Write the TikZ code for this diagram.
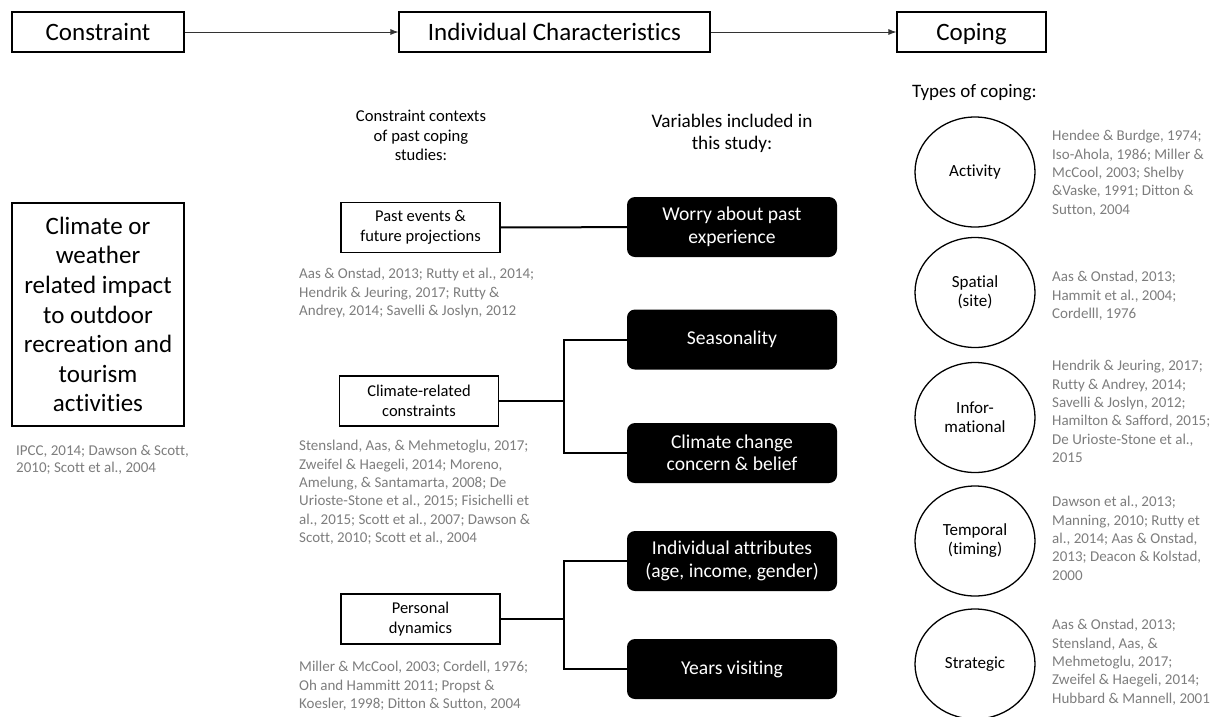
\documentclass[tikz,border=0pt]{standalone}
\usepackage{fontspec}
\setmainfont{Carlito}[Ligatures={NoCommon}]
\usetikzlibrary{shapes.geometric,arrows.meta}
\definecolor{citegray}{RGB}{125,125,125}
\begin{document}
\begin{tikzpicture}[x=1pt,y=1pt,
  topbox/.style={draw, line width=1.1pt, minimum height=40pt, inner sep=0pt, text height=19pt, text depth=3pt, font=\fontsize{25}{29}\selectfont},
  whitebox/.style={draw, line width=1.3pt, align=center, inner sep=0pt, minimum width=159pt, minimum height=50pt, font=\fontsize{16.5}{20}\selectfont},
  blackbox/.style={fill=black, text=white, rounded corners=8pt, align=center, inner sep=0pt, minimum width=210pt, minimum height=60pt, font=\fontsize{19.6}{22.5}\selectfont},
  copecirc/.style={draw, line width=1.3pt, ellipse, inner sep=0pt, minimum width=120pt, minimum height=110pt, align=center, font=\fontsize{17}{19}\selectfont},
  cite/.style={anchor=north west, inner sep=0pt, align=left, text=citegray, font=\fontsize{15}{18.4}\selectfont},
  header/.style={align=center, inner sep=0pt},
  arr/.style={line width=0.9pt, draw=black!80, -{Latex[length=8pt,width=6pt]}},
  conn/.style={line width=2pt}
]
\useasboundingbox (0,0) rectangle (1220,-716);

% top row
\node[topbox, minimum width=172pt] (constraint) at (98,-32) {Constraint};
\node[topbox, minimum width=311pt] (indiv) at (554.5,-32) {Individual Characteristics};
\node[topbox, minimum width=149pt] (coping) at (971.5,-32) {Coping};
\draw[arr] (constraint) -- (indiv);
\draw[arr] (indiv) -- (coping);

% left big box
\node[draw, line width=1.3pt, align=center, inner sep=0pt, minimum width=172pt, minimum height=223pt,
      font=\fontsize{25}{29.6}\selectfont] (impact) at (98,-314.5)
  {Climate or\\weather\\related impact\\to outdoor\\recreation and\\tourism\\activities};
\node[cite, font=\fontsize{15}{16.8}\selectfont] (impactcite) at (16,-445) {IPCC, 2014; Dawson \& Scott,\\2010; Scott et al., 2004};

% middle headers
\node[header, font=\fontsize{16.6}{19.5}\selectfont] (ctxhead) at (421,-135.5) {Constraint contexts\\of past coping\\studies:};
\node[header, font=\fontsize{19.2}{22}\selectfont] (varhead) at (732,-133) {Variables included in\\this study:};

% constraint contexts
\node[whitebox] (past) at (420.5,-227.5) {Past events \&\\future projections};
\node[cite] (pastcite) at (299,-268) {Aas \& Onstad, 2013; Rutty et al., 2014;\\Hendrik \& Jeuring, 2017; Rutty \&\\Andrey, 2014; Savelli \& Joslyn, 2012};

\node[whitebox] (clim) at (419,-401) {Climate-related\\constraints};
\node[cite] (climcite) at (299,-440) {Stensland, Aas, \& Mehmetoglu, 2017;\\Zweifel \& Haegeli, 2014; Moreno,\\Amelung, \& Santamarta, 2008; De\\Urioste-Stone et al., 2015; Fisichelli et\\al., 2015; Scott et al., 2007; Dawson \&\\Scott, 2010; Scott et al., 2004};

\node[whitebox] (pers) at (420.5,-619) {Personal\\dynamics};
\node[cite] (perscite) at (299,-661) {Miller \& McCool, 2003; Cordell, 1976;\\Oh and Hammitt 2011; Propst \&\\Koesler, 1998; Ditton \& Sutton, 2004};

% variables
\node[blackbox] (worry) at (732,-227) {Worry about past\\experience};
\node[blackbox] (season) at (732,-339.5) {Seasonality};
\node[blackbox] (ccc) at (732,-453) {Climate change\\concern \& belief};
\node[blackbox] (attr) at (732,-561) {Individual attributes\\(age, income, gender)};
\node[blackbox] (years) at (732,-669) {Years visiting};

\coordinate (j1) at (563.5,-401);
\coordinate (j2) at (563.5,-619);
\draw[conn] (past) -- (worry);
\draw[conn] (clim.east) -- (j1);
\draw[conn] (season.west) -| (j1) |- (ccc.west);
\draw[conn] (pers.east) -- (j2);
\draw[conn] (attr.west) -| (j2) |- (years.west);

% coping types
\node[anchor=west, inner sep=0pt, font=\fontsize{19}{22}\selectfont] (typehead) at (912,-93) {Types of coping:};

\node[copecirc] (activity) at (975,-172) {Activity};
\node[copecirc] (spatial) at (975,-292.5) {Spatial\\(site)};
\node[copecirc] (info) at (975,-417.5) {Infor-\\mational};
\node[copecirc] (temporal) at (975,-541) {Temporal\\(timing)};
\node[copecirc] (strategic) at (975,-664) {Strategic};

\node[cite] (actcite) at (1052,-130) {Hendee \& Burdge, 1974;\\Iso-Ahola, 1986; Miller \&\\McCool, 2003; Shelby\\\&Vaske, 1991; Ditton \&\\Sutton, 2004};
\node[cite] (spatcite) at (1052,-271) {Aas \& Onstad, 2013;\\Hammit et al., 2004;\\Cordelll, 1976};
\node[cite] (infocite) at (1052,-360) {Hendrik \& Jeuring, 2017;\\Rutty \& Andrey, 2014;\\Savelli \& Joslyn, 2012;\\Hamilton \& Safford, 2015;\\De Urioste-Stone et al.,\\2015};
\node[cite] (tempcite) at (1052,-496) {Dawson et al., 2013;\\Manning, 2010; Rutty et\\al., 2014; Aas \& Onstad,\\2013; Deacon \& Kolstad,\\2000};
\node[cite] (stratcite) at (1052,-619) {Aas \& Onstad, 2013;\\Stensland, Aas, \&\\Mehmetoglu, 2017;\\Zweifel \& Haegeli, 2014;\\Hubbard \& Mannell, 2001};
\end{tikzpicture}
\end{document}
